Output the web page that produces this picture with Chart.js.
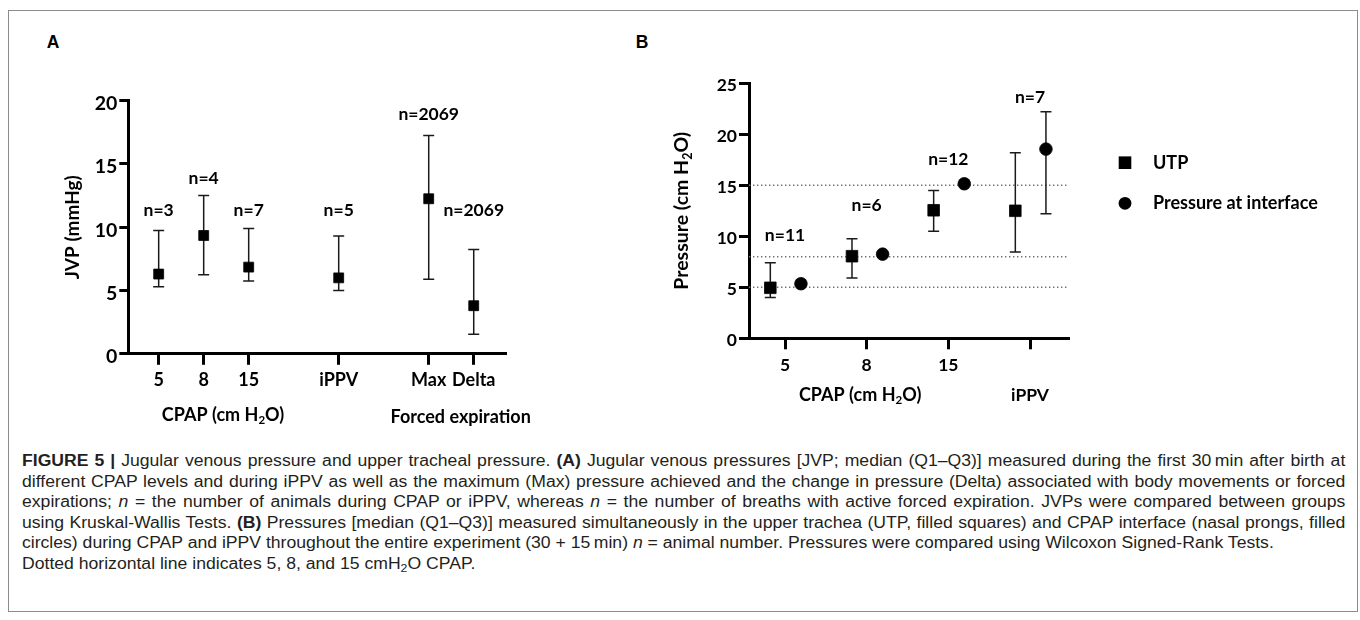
<!DOCTYPE html>
<html><head><meta charset="utf-8">
<script src="https://cdn.jsdelivr.net/npm/chart.js@4.4.1/dist/chart.umd.min.js"></script>
<style>
html,body{margin:0;padding:0;background:#fff;}
body{width:1360px;height:620px;position:relative;overflow:hidden;}
#frame{position:absolute;left:7.5px;top:9.5px;width:1350px;height:602px;border:1.5px solid #8c8c8c;box-sizing:border-box;}
.plabel{position:absolute;font:bold 17.5px "Liberation Sans",Arial,sans-serif;line-height:1;transform:translate(-50%,-50%);color:#000;}
#cA{position:absolute;left:0;top:0;}
#cB{position:absolute;left:600px;top:0;}
#caption{position:absolute;left:22px;top:451px;font-family:"Liberation Sans",Arial,sans-serif;font-size:16px;line-height:20.5px;color:#231f20;transform:scaleX(1.1);transform-origin:0 0;width:1203px;}
#caption div{white-space:nowrap;}
#caption .j{text-align:justify;text-align-last:justify;}
#caption sub{font-size:0.7em;vertical-align:-0.25em;line-height:0;}
</style>
</head>
<body>
<div id="frame"></div>
<div class="plabel" style="left:53px;top:43px;">A</div>
<div class="plabel" style="left:642px;top:43px;">B</div>
<canvas id="cA" width="600" height="440"></canvas>
<canvas id="cB" width="760" height="440"></canvas>
<div id="caption">
<div class="j"><b>FIGURE 5 |</b> Jugular venous pressure and upper tracheal pressure. <b>(A)</b> Jugular venous pressures [JVP; median (Q1–Q3)] measured during the first 30&#8201;min after birth at</div>
<div class="j">different CPAP levels and during iPPV as well as the maximum (Max) pressure achieved and the change in pressure (Delta) associated with body movements or forced</div>
<div class="j">expirations; <i>n</i> = the number of animals during CPAP or iPPV, whereas <i>n</i> = the number of breaths with active forced expiration. JVPs were compared between groups</div>
<div class="j">using Kruskal-Wallis Tests. <b>(B)</b> Pressures [median (Q1–Q3)] measured simultaneously in the upper trachea (UTP, filled squares) and CPAP interface (nasal prongs, filled</div>
<div>circles) during CPAP and iPPV throughout the entire experiment (30 + 15&#8201;min) <i>n</i> = animal number. Pressures were compared using Wilcoxon Signed-Rank Tests.</div>
<div>Dotted horizontal line indicates 5, 8, and 15 cmH<sub>2</sub>O CPAP.</div>
</div>
<script>
// ---------- Panel A data ----------
const slotsA = ['5', '8', '15', null, 'iPPV', null, 'Max', 'Delta'];   // category axis with gaps
const categoriesA = slotsA.filter(s => s !== null);
const medianA = [6.3, 9.35, 6.85, 6.0, 12.25, 3.8];
const q1A = [5.3, 6.25, 5.75, 5.0, 5.9, 1.55];
const q3A = [9.75, 12.5, 9.9, 9.3, 17.25, 8.25];
const nA = ['n=3', 'n=4', 'n=7', 'n=5', 'n=2069', 'n=2069'];
const nLevelA = [11.3, 13.9, 11.3, 11.3, 18.9, 11.3];
const yTicksA = [0, 5, 10, 15, 20];

// ---------- Panel B data ----------
const categoriesB = ['5', '8', '15', 'iPPV'];
const isCpapB = [true, true, true, false];
const utpMedian = [4.95, 8.05, 12.55, 12.5];
const utpQ1 = [4.0, 5.9, 10.5, 8.45];
const utpQ3 = [7.4, 9.75, 14.5, 18.2];
const ifaceMedian = [5.35, 8.25, 15.15, 18.55];
const ifaceQ1 = [null, null, null, 12.2];
const ifaceQ3 = [null, null, null, 22.2];
const nB = ['n=11', 'n=6', 'n=12', 'n=7'];
const nLevelB = [10.05, 13.05, 17.5, 23.6];
const cpapLevels = [5, 8, 15];
const yTicksB = [0, 5, 10, 15, 20, 25];

const FONT = 'Lato';

function parseRich(str) {
  const segs = [];
  const re = /([^{]+)|\{([^}]*)\}/g; let m;
  while ((m = re.exec(str))) { if (m[1]) segs.push({t: m[1]}); else segs.push({t: m[2], sub: true}); }
  return segs;
}
function drawRich(ctx, str, x, y, size, rotate) {
  const segs = parseRich(str);
  const main = `bold ${size}px ${FONT}`, sub = `bold ${(size * 0.64).toFixed(1)}px ${FONT}`;
  ctx.save();
  ctx.translate(x, y);
  if (rotate) ctx.rotate(-Math.PI / 2);
  let w = 0;
  segs.forEach(s => { ctx.font = s.sub ? sub : main; w += ctx.measureText(s.t).width; });
  let cx = -w / 2;
  ctx.textBaseline = 'middle'; ctx.textAlign = 'left'; ctx.fillStyle = '#000';
  segs.forEach(s => {
    ctx.font = s.sub ? sub : main;
    ctx.fillText(s.t, cx, s.sub ? size * 0.3 : 0);
    cx += ctx.measureText(s.t).width;
  });
  ctx.restore();
}

const annotPlugin = {
  id: 'annot',
  beforeDatasetDraw(chart, args) {
    const ds = chart.data.datasets[args.index];
    if (!ds.errLow) return;
    const ys = chart.scales.y, ctx = chart.ctx;
    ctx.save();
    ctx.strokeStyle = '#1a1a1a'; ctx.lineWidth = 1.5;
    args.meta.data.forEach((pt, i) => {
      const lo = ds.errLow[i], hi = ds.errHigh[i];
      if (lo == null || hi == null) return;
      const x = pt.x, y1 = ys.getPixelForValue(lo), y2 = ys.getPixelForValue(hi);
      ctx.beginPath();
      ctx.moveTo(x, y1); ctx.lineTo(x, y2);
      ctx.moveTo(x - 5.5, y1); ctx.lineTo(x + 5.5, y1);
      ctx.moveTo(x - 5.5, y2); ctx.lineTo(x + 5.5, y2);
      ctx.stroke();
    });
    ctx.restore();
  },
  afterDraw(chart, args, opts) {
    const ctx = chart.ctx, xs = chart.scales.x, ys = chart.scales.y, ca = chart.chartArea;
    ctx.save();
    ctx.fillStyle = '#000';
    (opts.nLabels || []).forEach(l => {
      ctx.font = `bold ${opts.nSize}px ${FONT}`;
      ctx.textAlign = 'center'; ctx.textBaseline = 'middle';
      ctx.fillText(l.text, xs.getPixelForValue(l.x), ys.getPixelForValue(l.y));
    });
    (opts.groupTitles || []).forEach(t => {
      drawRich(ctx, t.text, xs.getPixelForValue(t.x), ca.bottom + t.dy, opts.titleSize, false);
    });
    if (opts.yTitle) {
      drawRich(ctx, opts.yTitle.text, ca.left - opts.yTitle.dx, (ca.top + ca.bottom) / 2, opts.yTitle.size, true);
    }
    if (opts.legend) {
      const lg = opts.legend;
      chart.data.datasets.filter(d => d.inLegend).forEach((d, i) => {
        const mx = ca.right + lg.dx, my = ca.top + lg.dy + i * lg.gap;
        ctx.fillStyle = '#000';
        if (d.pointStyle === 'rect') { ctx.fillRect(mx - 6.3, my - 6.3, 12.6, 12.6); }
        else { ctx.beginPath(); ctx.arc(mx, my, 6.4, 0, Math.PI * 2); ctx.fill(); }
        ctx.font = `bold ${opts.titleSize}px ${FONT}`;
        ctx.textAlign = 'left'; ctx.textBaseline = 'middle';
        ctx.fillText(d.label, mx + lg.textGap, my);
      });
    }
    ctx.restore();
  }
};

function axisCommon(fontSize) {
  return {
    grid: {display: true, drawOnChartArea: false, drawTicks: true, tickWidth: 3, tickColor: '#000', color: '#000', lineWidth: 3},
    border: {display: true, color: '#000', width: 3},
    ticks: {color: '#000', font: {family: FONT, weight: 'bold', size: fontSize}}
  };
}

// ---------- Chart A ----------
const xIndexA = categoriesA.map(c => slotsA.indexOf(c));
const axAx = axisCommon(18), axAy = axisCommon(19.5);
new Chart(document.getElementById('cA'), {
  type: 'scatter',
  data: {datasets: [{
    label: 'JVP',
    data: categoriesA.map((c, i) => ({x: xIndexA[i], y: medianA[i]})),
    errLow: q1A, errHigh: q3A,
    pointStyle: 'rect', pointRadius: 7, pointHoverRadius: 7,
    backgroundColor: '#000', borderColor: '#000', borderWidth: 0.8
  }]},
  options: {
    responsive: false, animation: false, events: [],
    layout: {autoPadding: false, padding: {top: 100.7, right: 95, bottom: 0, left: 0}},
    scales: {
      x: {type: 'linear', min: -0.675, max: 7.695,
        afterBuildTicks: s => { s.ticks = xIndexA.map(v => ({value: v})); },
        afterFit: s => { s.height = 86.2; },
        grid: Object.assign({}, axAx.grid, {tickLength: 11}),
        border: axAx.border,
        ticks: Object.assign({}, axAx.ticks, {autoSkip: false, maxRotation: 0, minRotation: 0, padding: 5,
          callback: v => slotsA[v] || ''})
      },
      y: {min: 0, max: 20,
        afterBuildTicks: s => { s.ticks = yTicksA.map(v => ({value: v})); },
        afterFit: s => { s.width = 128.3; },
        grid: Object.assign({}, axAy.grid, {tickLength: 9}),
        border: axAy.border,
        ticks: Object.assign({}, axAy.ticks, {padding: 2, labelOffset: 3})
      }
    },
    plugins: {
      legend: {display: false}, tooltip: {enabled: false},
      annot: {
        nSize: 17.5, titleSize: 18,
        nLabels: categoriesA.map((c, i) => ({text: nA[i], x: xIndexA[i], y: nLevelA[i]})),
        groupTitles: [{text: 'CPAP (cm H{2}O)', x: 1.43, dy: 61}, {text: 'Forced expiration', x: 6.71, dy: 63}],
        yTitle: {text: 'JVP (mmHg)', dx: 55, size: 19}
      }
    }
  },
  plugins: [annotPlugin]
});

// ---------- Chart B ----------
const xMinB = -0.441, xMaxB = 3.465;
const axBx = axisCommon(17.5), axBy = axisCommon(17.5);
new Chart(document.getElementById('cB'), {
  type: 'scatter',
  data: {datasets: [
    {label: 'UTP', inLegend: true,
     data: categoriesB.map((c, i) => ({x: i - 0.18, y: utpMedian[i]})),
     errLow: utpQ1, errHigh: utpQ3,
     pointStyle: 'rect', pointRadius: 8.2, pointHoverRadius: 8.2,
     backgroundColor: '#000', borderColor: '#000', borderWidth: 0.8, order: 0},
    {label: 'Pressure at interface', inLegend: true,
     data: categoriesB.map((c, i) => ({x: i + 0.195, y: ifaceMedian[i]})),
     errLow: ifaceQ1, errHigh: ifaceQ3,
     pointStyle: 'circle', pointRadius: 6.3, pointHoverRadius: 6.3,
     backgroundColor: '#000', borderColor: '#000', borderWidth: 0.8, order: 0},
    ...cpapLevels.map(v => ({
      type: 'line', label: 'CPAP ' + v,
      data: [{x: xMinB, y: v}, {x: xMaxB, y: v}],
      borderColor: '#6f6f6f', borderWidth: 1.4, borderDash: [1.4, 2.6],
      pointRadius: 0, order: 5, clip: false
    }))
  ]},
  options: {
    responsive: false, animation: false, events: [],
    layout: {autoPadding: false, padding: {top: 83.3, right: 292, bottom: 0, left: 0}},
    scales: {
      x: {type: 'linear', min: xMinB, max: xMaxB,
        afterBuildTicks: s => { s.ticks = categoriesB.map((c, i) => ({value: i})); },
        afterFit: s => { s.height = 101.7; },
        grid: Object.assign({}, axBx.grid, {tickLength: 11}),
        border: axBx.border,
        ticks: Object.assign({}, axBx.ticks, {autoSkip: false, maxRotation: 0, minRotation: 0, padding: 1,
          font: {family: FONT, weight: 'bold', size: 17.5, lineHeight: 30 / 17.5},
          callback: v => isCpapB[v] ? categoriesB[v] : ['', categoriesB[v]]})
      },
      y: {min: 0, max: 25,
        afterBuildTicks: s => { s.ticks = yTicksB.map(v => ({value: v})); },
        afterFit: s => { s.width = 149; },
        grid: Object.assign({}, axBy.grid, {tickLength: 10}),
        border: axBy.border,
        ticks: Object.assign({}, axBy.ticks, {padding: 2, labelOffset: 2})
      }
    },
    plugins: {
      legend: {display: false}, tooltip: {enabled: false},
      annot: {
        nSize: 17.5, titleSize: 18,
        nLabels: categoriesB.map((c, i) => ({text: nB[i], x: i, y: nLevelB[i]})),
        groupTitles: [{text: 'CPAP (cm H{2}O)', x: 0.92, dy: 57}],
        yTitle: {text: 'Pressure (cm H{2}O)', dx: 67.3, size: 19.5},
        legend: {dx: 57, dy: 79.4, gap: 40.6, textGap: 28}
      }
    }
  },
  plugins: [annotPlugin]
});
</script>
</body></html>
